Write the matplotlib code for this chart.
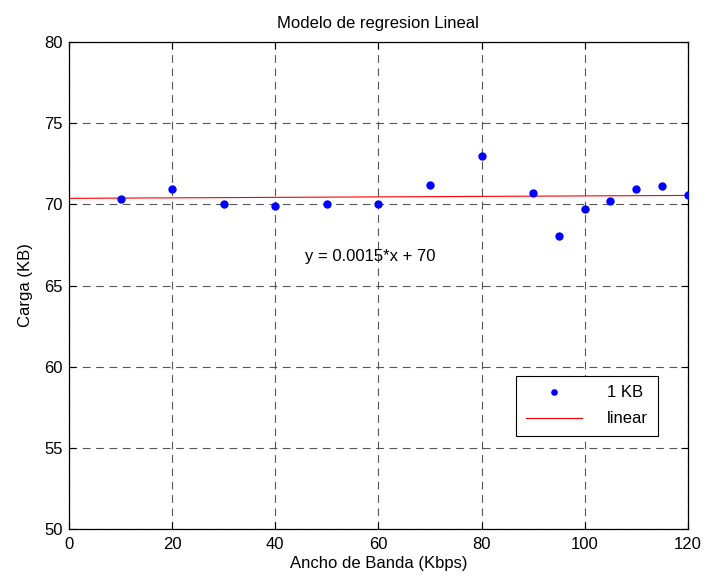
import matplotlib
matplotlib.use("Agg")
import matplotlib.pyplot as plt

plt.rcParams["font.family"] = ["Liberation Sans", "DejaVu Sans"]

# data
ancho = [10, 20, 30, 40, 50, 60, 70, 80, 90, 95, 100, 105, 110, 115, 120]
carga = [70.33, 70.94, 70.0, 69.9, 70.0, 70.0, 71.2, 72.96, 70.68, 68.05,
         69.7, 70.22, 70.94, 71.13, 70.59]
fit_x = [0, 120]
fit_y = [70.37, 70.55]

xticks = [0, 20, 40, 60, 80, 100, 120]
yticks = [50, 55, 60, 65, 70, 75, 80]

fig = plt.figure(figsize=(7.04, 5.79), dpi=100)
ax = fig.add_axes([0.098, 0.0864, 0.879, 0.841])

ax.plot(ancho, carga, "o", color="#0000ff", markersize=5, label="1 KB",
        zorder=3)
ax.plot(fit_x, fit_y, "-", color="#ff0000", linewidth=0.8, label="linear",
        zorder=2)

ax.set_xlim(0, 120)
ax.set_ylim(50, 80)
ax.set_xticks(xticks)
ax.set_yticks(yticks)
ax.tick_params(direction="in", top=True, right=True, labelsize=12,
               length=5, width=0.8)
ax.tick_params(axis="x", pad=6)
ax.tick_params(axis="y", pad=4.5)
ax.grid(True, linestyle=(0, (7, 5)), color="#555555", linewidth=0.8)
for s in ax.spines.values():
    s.set_linewidth(0.9)

ax.set_title("Modelo de regresion Lineal", fontsize=12, pad=10)
ax.set_xlabel("Ancho de Banda (Kbps)", fontsize=12, labelpad=3)
ax.set_ylabel("Carga (KB)", fontsize=12, labelpad=8)

ax.text(45.7, 66.8, "y = 0.0015*x + 70", fontsize=12, va="center", ha="left")

leg = ax.legend(loc="lower right", bbox_to_anchor=(0.9515, 0.191),
                borderaxespad=0, fancybox=False, edgecolor="black",
                framealpha=1, fontsize=12, handlelength=3.4,
                handletextpad=1.5, borderpad=0.57, labelspacing=0.66,
                markerscale=0.75)
leg.get_frame().set_linewidth(0.8)

fig.savefig("out.png", dpi=100)
